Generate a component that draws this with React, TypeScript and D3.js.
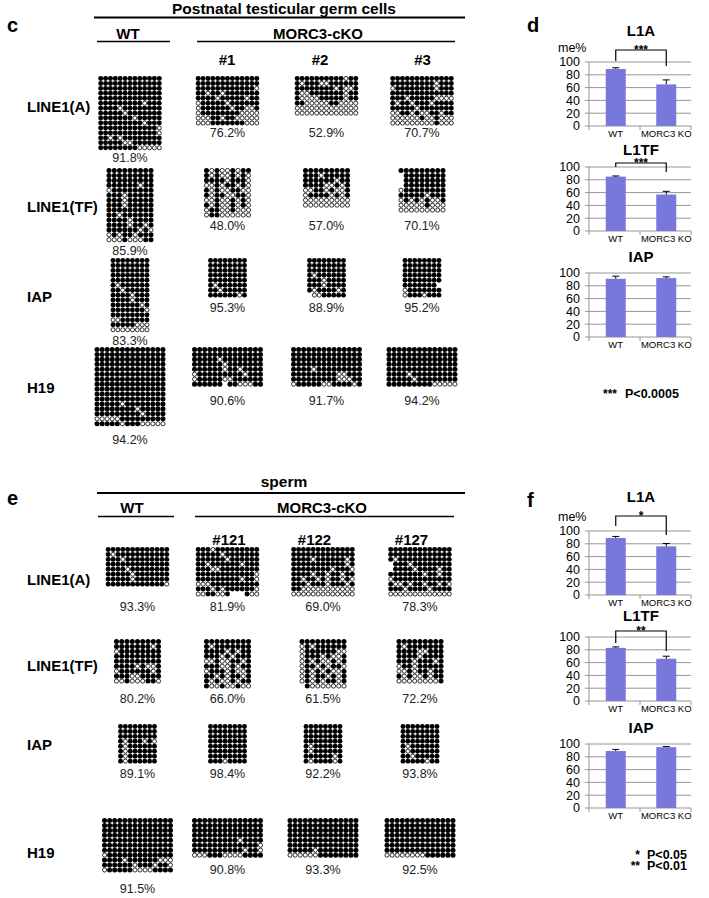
import React, { useEffect } from 'react';
import * as d3 from 'd3';

const FONT = "'Liberation Sans', Arial, Helvetica, sans-serif";

// ---- bisulfite dot panels ----
const genes = ['LINE1(A)', 'LINE1(TF)', 'IAP', 'H19'];
const cCols = ['WT', '#1', '#2', '#3'];
const eCols = ['WT', '#121', '#122', '#127'];

const cPct = [
  [91.8, 76.2, 52.9, 70.7],
  [85.9, 48.0, 57.0, 70.1],
  [83.3, 95.3, 88.9, 95.2],
  [94.2, 90.6, 91.7, 94.2],
];
const ePct = [
  [93.3, 81.9, 69.0, 78.3],
  [80.2, 66.0, 61.5, 72.2],
  [89.1, 98.4, 92.2, 93.8],
  [91.5, 90.8, 93.3, 92.5],
];

// '1' methylated (filled), '0' unmethylated (open), '.' no read
const cL1A = [
  ['1111111111111', '1111111111111', '1111111111111', '1111111111111', '1111111111111',
   '1111111110111', '1111011111111', '1111101111111', '1111111011111', '1111111110111',
   '1111111111110', '1111111111110', '1101011111111', '1111100111111', '1111111100000'],
  ['1111111111111', '1111111111111', '1111111111110', '1101101111111', '1111011111011',
   '0111110111111', '0111111011001', '0111111110000', '0001101100000', '0001111111000'],
  ['1111111111011', '1011100111111', '1111111101001', '1001111111011', '1000011111011',
   '1100000110000', '0000000000000', '0000000000000'],
  ['1111111111111', '1111111110111', '0111111110111', '1111111111111', '1110111110000',
   '1011011101111', '1111101111111', '0011010011011', '0000001001000', '0000000001000'],
];
const cTF = [
  ['111111111', '111111111', '111111111', '111111011', '011111111', '111011111', '111011111',
   '111011111', '111111111', '110111111', '111101111', '111101101', '111111010', '010110111',
   '000100011'],
  ['101001011', '101001010', '111101110', '001011010', '101001100', '101100110', '001001010',
   '101001010', '011001000', '011000000'],
  ['111111111', '111011111', '111111011', '111100101', '001101001', '011110101', '000000000',
   '000000000'],
  ['111111111', '.11111111', '.11111111', '.11111111', '011111111', '111110111', '010101001',
   '000001000', '000000000'],
];
const cIAP = [
  ['11111111', '11111111', '11111111', '11111111', '11111111', '10111111', '11011111',
   '11110111', '11110111', '11111101', '11111110', '11111111', '00111111', '11111000',
   '00000000'],
  ['11111111', '11111111', '11111111', '11111111', '11111111', '10111111', '11011111', '11111101'],
  ['11111111', '11111111', '11111111', '10111111', '11101111', '11101111', '10111101', '.0011111'],
  ['11111111', '11111111', '11111111', '11111111', '11111111', '1111111.', '01111111', '01110111'],
];
const cH19 = [
  ['11111111111111', '11111111111111', '11111111111111', '11111111111111', '11111111111111',
   '11111111111111', '11111111111111', '11111111111111', '11111111111111', '11111111111111',
   '11111111111111', '11111011111111', '11111111011111', '11111111101111', '00000111111111',
   '11111011100000'],
  ['11111111111111', '11111111111111', '11111011111111', '11111101111111', '11111101101111',
   '01111111110111', '01111100111111', '111111.1100011'],
  ['11111111111111', '11111111111111', '11111111111111', '11111111111111', '11110111111111',
   '11111111100111', '11111111100011', '01111100111101'],
  ['11111111111111', '11111111111111', '11111111111111', '11111111111111', '11111111111111',
   '11110111111111', '11111011111111', '11111111100000'],
];
const eL1A = [
  ['1111111111111', '1011111111111', '1110111111111', '1111111111111', '1111011111111',
   '1111101111111', '1111101111111', '1111111111110'],
  ['1110111111111', '1111101111111', '1111110111111', '1101111110111', '1110011111111',
   '1111111111110', '1111111110110', '0001111111111', '1110101111110', '0011001...100'],
  ['1111111111111', '1111111111111', '1111011111101', '1111111111101', '1111111101110',
   '1111011011011', '1101101011010', '1110111011101', '1100000000000', '0000000000000'],
  ['1111111111111', '1111111111111', '1011111111111', '.111011111111', '.111101111011',
   '1111111011011', '0111111111111', '1001011011010', '1110111101111', '0000000000000'],
];
const eTF = [
  ['111111111', '111111101', '011111111', '111111111', '111111111', '111101001', '011111101',
   '111001111', '001000110'],
  ['111111111', '101111111', '111101011', '111010111', '001001101', '111001011', '011101001',
   '110101101', '101001011', '100100100'],
  ['111111111', '010111111', '011111100', '011101001', '010100101', '011010110', '010101001',
   '010110101', '010101101', '.10000000'],
  ['111111111', '101111111', '111100111', '111101111', '111011101', '011011111', '001011011',
   '101001011', '000000001'],
];
const eIAP = [
  ['11111111', '11111111', '11111111', '10111010', '10111111', '10111111', '10111111', '10111111'],
  ['11111111', '11111111', '11111111', '11111111', '11111111', '11111111', '11111111', '11101111'],
  ['11111111', '11111111', '11111111', '11111111', '10111111', '10111111', '11111101', '10111101'],
  ['11111111', '11111111', '11111111', '11111111', '10111111', '10111111', '11011111', '11111011'],
];
const eH19 = [
  ['11111111111111', '11111111111111', '11111111111111', '11111111111111', '11111111111111',
   '11111111111111', '11111111111111', '01111111111111', '11110111111000', '11111101110110',
   '01111100001111'],
  ['11111111111111', '11111111111111', '11111111111111', '11111111111111', '11111111101111',
   '11111111111110', '11111111110110', '00011100001111'],
  ['11111111111111', '11111111111111', '11111111111111', '11111111111111', '11111111111111',
   '11111111111111', '11111011111111', '00000011111111'],
  ['11111111111111', '11111111111111', '11111111111111', '11111111111111', '11111111111111',
   '11111111111111', '11111111111111', '00000000111111'],
];

// ---- bar charts ----
const barGroups = ['WT', 'MORC3 KO'];
const barTitles = ['L1A', 'L1TF', 'IAP'];
const yTicks = [0, 20, 40, 60, 80, 100];
const dWT = [89, 85, 91];
const dWTErr = [2, 1, 4];
const dKO = [65, 57, 92];
const dKOErr = [7, 5, 2];
const dStars = ['***', '***', ''];
const fWT = [89, 83, 89];
const fWTErr = [2.5, 1.5, 2.5];
const fKO = [76, 66, 95];
const fKOErr = [4.5, 4, 1];
const fStars = ['*', '**', ''];

// layout
const geneDx = [4.88, 5.25, 4.85, 5.07];
const DY = 4.95;
const cLayout = {
  colX: [130, 227.5, 326.5, 422],
  tops: [76, 168, 258, 347],
  pctWT: [162, 255, 345, 444],
  pctKO: [137, 230, 312, 405],
  labelY: [112, 212, 302, 393],
};
const eLayout = {
  colX: [137.5, 227.5, 323, 420],
  tops: [547, 639, 724, 818],
  pctWT: [611, 703, 778, 893],
  pctKO: [611, 703, 778, 874],
  labelY: [585, 671, 750, 858],
};
const dLayout = { tops: [62, 167, 273], titleY: [36, 155, 262], bracket: [[50, 61, 66], [163, 167, 172], null] };
const fLayout = { tops: [531, 637, 744], titleY: [502, 621, 733], bracket: [[516, 526, 535], [631, 643, 651], null] };

function DotGrid({ rows, cx, top, dx, dy }: { rows: string[]; cx: number; top: number; dx: number; dy: number }) {
  const nC = rows[0].length;
  const nR = rows.length;
  const x = d3.scaleLinear().domain([0, nC]).range([cx - (nC * dx) / 2, cx + (nC * dx) / 2]);
  const y = d3.scaleLinear().domain([0, nR]).range([top, top + nR * dy]);
  const r = Math.min(dx, dy) / 2;
  const cells = rows.flatMap((s, ri) => s.split('').map((ch, ci) => ({ ch, ri, ci })));
  return (
    <g>
      {cells.filter((c) => c.ch !== '.').map((c) =>
        c.ch === '1' ? (
          <circle key={`${c.ri}-${c.ci}`} cx={x(c.ci + 0.5)} cy={y(c.ri + 0.5)} r={r + 0.05} fill="#000" />
        ) : (
          <circle key={`${c.ri}-${c.ci}`} cx={x(c.ci + 0.5)} cy={y(c.ri + 0.5)} r={r - 0.4}
            fill="#fff" stroke="#000" strokeWidth={0.8} />
        )
      )}
    </g>
  );
}

function MethPanel({ grids, pct, layout }: { grids: string[][][]; pct: number[][]; layout: typeof cLayout }) {
  return (
    <g>
      {genes.map((g, gi) => (
        <g key={g}>
          <text x={27} y={layout.labelY[gi]} fontSize={15} fontWeight="bold">{g}</text>
          {grids[gi].map((rows, ci) => (
            <g key={ci}>
              <DotGrid rows={rows} cx={layout.colX[ci]} top={layout.tops[gi]} dx={geneDx[gi]} dy={DY} />
              <text x={layout.colX[ci]} y={ci === 0 ? layout.pctWT[gi] : layout.pctKO[gi]}
                textAnchor="middle" fontSize={12.5} fill="#222">{pct[gi][ci].toFixed(1)}%</text>
            </g>
          ))}
        </g>
      ))}
    </g>
  );
}

function BarChart({ title, wt, wtErr, ko, koErr, stars, top, titleY, bracket, showMe }:
  { title: string; wt: number; wtErr: number; ko: number; koErr: number; stars: string; top: number;
    titleY: number; bracket: number[] | null; showMe: boolean }) {
  const h = 64;
  const y = d3.scaleLinear().domain([0, 100]).range([top + h, top]);
  const x = d3.scaleBand<string>().domain(barGroups).range([590.5, 691.5]);
  const bw = 20;
  const left = 589;
  const right = 691;
  const vals = [wt, ko];
  const errs = [wtErr, koErr];
  const cx = (g: string) => (x(g) as number) + x.bandwidth() / 2;
  return (
    <g>
      <text x={(left + right) / 2 + 1} y={titleY} textAnchor="middle" fontSize={15} fontWeight="bold">{title}</text>
      {showMe && <text x={558} y={top - 10} fontSize={12.5}>me%</text>}
      {yTicks.map((t) => (
        <g key={t}>
          <line x1={left - 4} x2={right} y1={y(t)} y2={y(t)} stroke="#8a8a8a" strokeWidth={0.9} />
          <text x={580} y={y(t)} dy="0.35em" textAnchor="end" fontSize={12.5}>{t}</text>
        </g>
      ))}
      <line x1={left} x2={left} y1={y(100)} y2={y(0)} stroke="#8a8a8a" strokeWidth={0.9} />
      {[left, (left + right) / 2, right].map((tx) => (
        <line key={tx} x1={tx} x2={tx} y1={y(0)} y2={y(0) + 4} stroke="#8a8a8a" strokeWidth={0.9} />
      ))}
      {barGroups.map((g, i) => (
        <g key={g}>
          <rect x={cx(g) - bw / 2} y={y(vals[i])} width={bw} height={y(0) - y(vals[i])} fill="#7878dc" />
          <line x1={cx(g)} x2={cx(g)} y1={y(vals[i])} y2={y(vals[i] + errs[i])} stroke="#000" strokeWidth={1} />
          <line x1={cx(g) - 3.5} x2={cx(g) + 3.5} y1={y(vals[i] + errs[i])} y2={y(vals[i] + errs[i])} stroke="#000" strokeWidth={1} />
          <text x={cx(g)} y={y(0) + 11} textAnchor="middle" fontSize={9.5}>{g}</text>
        </g>
      ))}
      {bracket && (
        <g>
          <path d={`M${cx('WT')},${bracket[1]}V${bracket[0]}H${cx('MORC3 KO')}V${bracket[2]}`}
            fill="none" stroke="#000" strokeWidth={1.2} />
          <text x={(cx('WT') + cx('MORC3 KO')) / 2} y={bracket[0] + 4} textAnchor="middle" fontSize={12} fontWeight="bold">{stars}</text>
        </g>
      )}
    </g>
  );
}

function BarPanel({ wt, wtErr, ko, koErr, stars, layout }:
  { wt: number[]; wtErr: number[]; ko: number[]; koErr: number[]; stars: string[]; layout: typeof dLayout }) {
  return (
    <g>
      {barTitles.map((t, i) => (
        <BarChart key={t} title={t} wt={wt[i]} wtErr={wtErr[i]} ko={ko[i]} koErr={koErr[i]} stars={stars[i]}
          top={layout.tops[i]} titleY={layout.titleY[i]} bracket={layout.bracket[i]} showMe={i === 0} />
      ))}
    </g>
  );
}

function Header({ letter, title, cols, y0, colX }: { letter: string; title: string; cols: string[]; y0: number; colX: number[] }) {
  return (
    <g fontWeight="bold">
      <text x={7} y={y0 + 18} fontSize={20}>{letter}</text>
      <text x={284} y={y0} textAnchor="middle" fontSize={15.5}>{title}</text>
      <line x1={94} x2={465} y1={y0 + 4} y2={y0 + 4} stroke="#000" strokeWidth={2} />
      {cols.map((c, i) => (
        <text key={c} x={colX[i]} y={i === 0 ? y0 + 25.5 : y0 + 51.5} textAnchor="middle" fontSize={15}>{c}</text>
      ))}
    </g>
  );
}

export default function App() {
  useEffect(() => {
    document.body.style.margin = '0';
  }, []);
  return (
    <svg width={709} height={898} style={{ position: 'absolute', left: 0, top: 0, background: '#fff' }}
      fontFamily={FONT}>
      <rect width={709} height={898} fill="#fff" />
      {/* panel c */}
      <Header letter="c" title="Postnatal testicular germ cells" cols={cCols} y0={13.5} colX={[128, 227, 320, 422.5]} />
      <g fontWeight="bold">
        <text x={318} y={39} textAnchor="middle" fontSize={15}>MORC3-cKO</text>
      </g>
      <line x1={97} x2={170} y1={41.5} y2={41.5} stroke="#000" strokeWidth={1.6} />
      <line x1={197} x2={455} y1={41.5} y2={41.5} stroke="#000" strokeWidth={1.6} />
      <MethPanel grids={[cL1A, cTF, cIAP, cH19]} pct={cPct} layout={cLayout} />

      {/* panel e */}
      <g fontWeight="bold">
        <text x={7} y={505} fontSize={20}>e</text>
        <text x={284} y={487} textAnchor="middle" fontSize={15.5}>sperm</text>
        <text x={132} y={513} textAnchor="middle" fontSize={15}>{eCols[0]}</text>
        <text x={322} y={513} textAnchor="middle" fontSize={15}>MORC3-cKO</text>
        {eCols.slice(1).map((c, i) => (
          <text key={c} x={[229, 314.5, 411.5][i]} y={545} textAnchor="middle" fontSize={15}>{c}</text>
        ))}
      </g>
      <line x1={97} x2={465} y1={493} y2={493} stroke="#000" strokeWidth={2} />
      <line x1={98} x2={174} y1={516.5} y2={516.5} stroke="#000" strokeWidth={1.6} />
      <line x1={195} x2={454} y1={516.5} y2={516.5} stroke="#000" strokeWidth={1.6} />
      <MethPanel grids={[eL1A, eTF, eIAP, eH19]} pct={ePct} layout={eLayout} />

      {/* panel d */}
      <text x={527} y={32} fontSize={20} fontWeight="bold">d</text>
      <BarPanel wt={dWT} wtErr={dWTErr} ko={dKO} koErr={dKOErr} stars={dStars} layout={dLayout} />
      <text x={603} y={398} fontSize={12} fontWeight="bold">***</text>
      <text x={625} y={398} fontSize={12.5} fontWeight="bold">P&lt;0.0005</text>

      {/* panel f */}
      <text x={527} y={507} fontSize={20} fontWeight="bold">f</text>
      <BarPanel wt={fWT} wtErr={fWTErr} ko={fKO} koErr={fKOErr} stars={fStars} layout={fLayout} />
      <text x={640} y={859} textAnchor="end" fontSize={12} fontWeight="bold">*</text>
      <text x={647} y={859} fontSize={12.5} fontWeight="bold">P&lt;0.05</text>
      <text x={640} y={870} textAnchor="end" fontSize={12} fontWeight="bold">**</text>
      <text x={647} y={870} fontSize={12.5} fontWeight="bold">P&lt;0.01</text>
    </svg>
  );
}
